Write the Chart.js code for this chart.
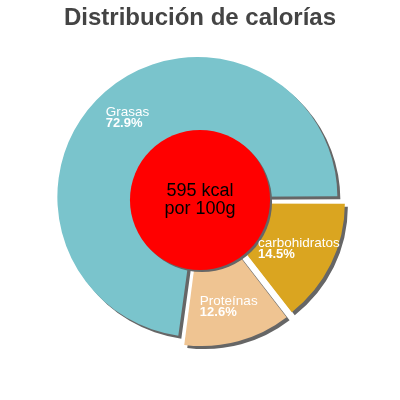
<!DOCTYPE html>
<html>
<head>
<meta charset="utf-8">
<script src="https://cdn.jsdelivr.net/npm/chart.js@4"></script>
<style>
  html, body { margin: 0; padding: 0; background: #fff; }
  #wrap { width: 400px; height: 400px; position: relative; }
</style>
</head>
<body>
<div id="wrap"><canvas id="chartCalorias"></canvas></div>
<script>
// ======== Datos ========
const categorias = ["carbohidratos", "Proteínas", "Grasas"];
const porcentajes = [14.5, 12.6, 72.9];
const colores = ["#daa520", "#efc492", "#7ac4cc"];
const energiaKcal = 595;
const textoCentro = [energiaKcal + " kcal", "por 100g"];

const FONT = "'Liberation Sans', Arial, sans-serif";

// sombra dura gris debajo de cada porción
const sombraPlugin = {
  id: "sombra",
  beforeDatasetsDraw(chart) {
    const ctx = chart.ctx;
    const dpr = chart.currentDevicePixelRatio || 1;
    ctx.save();
    ctx.shadowColor = "#666";
    ctx.shadowBlur = 0;
    ctx.shadowOffsetX = 3 * dpr;
    ctx.shadowOffsetY = 3 * dpr;
  },
  afterDatasetsDraw(chart) {
    chart.ctx.restore();
  },
};

// círculo rojo central + etiquetas dentro de las porciones
const centroPlugin = {
  id: "centro",
  afterDatasetsDraw(chart) {
    const ctx = chart.ctx;
    const dpr = chart.currentDevicePixelRatio || 1;
    const arcs = chart.getDatasetMeta(0).data;
    if (!arcs.length) return;
    const cx = arcs[0].x, cy = arcs[0].y, R = arcs[0].outerRadius;

    // círculo central
    ctx.save();
    ctx.shadowColor = "#666";
    ctx.shadowOffsetX = 2 * dpr;
    ctx.shadowOffsetY = 2 * dpr;
    ctx.beginPath();
    ctx.arc(cx, cy, R * 0.515, 0, Math.PI * 2);
    ctx.fillStyle = "#ff0000";
    ctx.fill();
    ctx.restore();

    ctx.save();
    ctx.fillStyle = "#000";
    ctx.font = "18px " + FONT;
    ctx.textAlign = "center";
    ctx.textBaseline = "alphabetic";
    ctx.fillText(textoCentro[0], cx, cy - 4);
    ctx.fillText(textoCentro[1], cx, cy + 14);
    ctx.restore();

    // etiquetas
    ctx.save();
    ctx.fillStyle = "#fff";
    ctx.textAlign = "left";
    ctx.textBaseline = "alphabetic";
    arcs.forEach((arc, i) => {
      const mid = (arc.startAngle + arc.endAngle) / 2;
      const ax = arc.x + Math.cos(mid) * R * 0.81;
      const ay = arc.y + Math.sin(mid) * R * 0.81;
      const nombre = categorias[i];
      const pct = porcentajes[i].toFixed(1) + "%";
      ctx.font = "13.5px " + FONT;
      const w1 = ctx.measureText(nombre).width;
      ctx.font = "bold 13px " + FONT;
      const w2 = ctx.measureText(pct).width;
      const left = ax - Math.max(w1, w2) / 2;
      ctx.font = "13.5px " + FONT;
      ctx.fillText(nombre, left, ay - 1);
      ctx.font = "bold 13px " + FONT;
      ctx.fillText(pct, left, ay + 10);
    });
    ctx.restore();
  },
};

new Chart(document.getElementById("chartCalorias"), {
  type: "pie",
  data: {
    labels: categorias,
    datasets: [
      {
        data: porcentajes,
        backgroundColor: colores,
        borderWidth: 0,
        offset: [32, 32, 16],
      },
    ],
  },
  options: {
    responsive: true,
    maintainAspectRatio: false,
    animation: false,
    events: [],
    rotation: 90,
    radius: 136,
    layout: { padding: { top: 0, bottom: 32.8, left: 0, right: 0 } },
    plugins: {
      legend: { display: false },
      tooltip: { enabled: false },
      title: {
        display: true,
        text: "Distribución de calorías",
        color: "#444",
        font: { family: FONT, size: 24, weight: "bold" },
        padding: { top: 4, bottom: 0 },
      },
    },
  },
  plugins: [sombraPlugin, centroPlugin],
});
</script>
</body>
</html>
